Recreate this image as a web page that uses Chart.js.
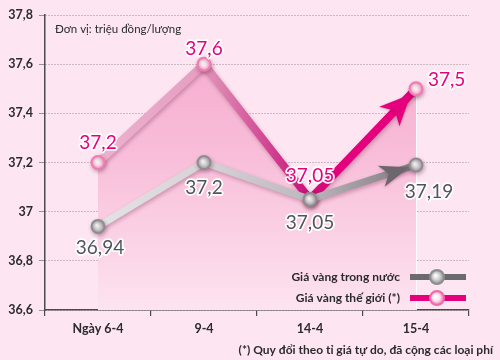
<!DOCTYPE html>
<html><head><meta charset="utf-8">
<script src="https://cdn.jsdelivr.net/npm/chart.js@4.4.1/dist/chart.umd.min.js"></script>
<style>html,body{margin:0;padding:0;background:#fde6f2;}#wrap{width:500px;height:360px;}</style>
</head><body><div id="wrap"><canvas id="c" width="500" height="360"></canvas></div>
<script>
const categories = ["Ngày 6-4", "9-4", "14-4", "15-4"];
const domestic = [36.94, 37.2, 37.05, 37.19];
const world = [37.2, 37.6, 37.05, 37.5];
const domesticLabels = ["36,94", "37,2", "37,05", "37,19"];
const worldLabels = ["37,2", "37,6", "37,05", "37,5"];
const seriesNames = ["Giá vàng trong nước", "Giá vàng thế giới (*)"];
const unitText = "Đơn vị: triệu đồng/lượng";
const footnote = "(*) Quy đổi theo tỉ giá tự do, đã cộng các loại phí";

const FONT = "Lato, 'Open Sans', sans-serif";

function hGrad(chart, stops) {
  const a = chart.chartArea;
  if (!a) return stops[stops.length-1][1];
  const g = chart.ctx.createLinearGradient(a.left, 0, a.right, 0);
  stops.forEach(s => g.addColorStop(s[0], s[1]));
  return g;
}
function pointGrad(ctx, outer, inner) {
  const ch = ctx.chart;
  const xs = ch.scales.x, ys = ch.scales.y;
  if (!xs || !ys || ctx.parsed === undefined) return inner;
  const x = xs.getPixelForValue(ctx.dataIndex);
  const y = ys.getPixelForValue(ctx.parsed.y);
  if (!isFinite(x) || !isFinite(y)) return inner;
  const g = ch.ctx.createRadialGradient(x - 1.5, y - 1.5, 0.5, x, y, 6);
  g.addColorStop(0, '#ffffff');
  g.addColorStop(0.45, inner);
  g.addColorStop(1, outer);
  return g;
}

const bgPlugin = {
  id: 'bg',
  beforeDraw(chart) {
    const c = chart.ctx;
    c.save(); c.fillStyle = '#fde6f2'; c.fillRect(0, 0, chart.width, chart.height); c.restore();
  },
  beforeDatasetsDraw(chart) {
    const c = chart.ctx, a = chart.chartArea;
    const mW = chart.getDatasetMeta(1);
    c.save(); c.strokeStyle = 'rgba(255,255,255,0.8)'; c.lineWidth = 1;
    mW.data.forEach((p, i) => {
      if (i === 0) return;
      c.beginPath(); c.moveTo(Math.round(p.x)+0.5, p.y); c.lineTo(Math.round(p.x)+0.5, a.bottom); c.stroke();
    });
    c.restore();
  },
  beforeDatasetDraw(chart, args) {
    const c = chart.ctx; c.save();
    c.shadowColor = 'rgba(80,0,40,0.28)'; c.shadowBlur = 4; c.shadowOffsetX = 1; c.shadowOffsetY = 2;
  },
  afterDatasetDraw(chart, args) {
    const c = chart.ctx; c.restore();
    const meta = args.meta, pts = meta.data, n = pts.length;
    const p1 = pts[n-2], p2 = pts[n-1];
    const ang = Math.atan2(p2.y - p1.y, p2.x - p1.x);
    const isWorld = args.index === 1;
    const r = 7.5, len = isWorld ? 25 : 23, hw = isWorld ? 14 : 11;
    const tx = p2.x - Math.cos(ang) * r, ty = p2.y - Math.sin(ang) * r;
    const bx = tx - Math.cos(ang) * len, by = ty - Math.sin(ang) * len;
    const back = 6;
    c.save();
    c.shadowColor = 'rgba(80,0,40,0.25)'; c.shadowBlur = 3; c.shadowOffsetY = 1;
    c.fillStyle = isWorld ? '#e5007e' : '#6c666d';
    c.beginPath();
    c.moveTo(tx, ty);
    c.lineTo(bx - Math.sin(ang) * hw - Math.cos(ang) * back, by + Math.cos(ang) * hw - Math.sin(ang) * back);
    c.lineTo(bx + Math.cos(ang) * 2, by + Math.sin(ang) * 2);
    c.lineTo(bx + Math.sin(ang) * hw - Math.cos(ang) * back, by - Math.cos(ang) * hw - Math.sin(ang) * back);
    c.closePath(); c.fill();
    c.restore();
  },
  afterDraw(chart) {
    const c = chart.ctx, a = chart.chartArea;
    c.save();
    function lbl(text, x, y, color, align) {
      c.font = "19px " + FONT;
      c.textAlign = align || 'center'; c.textBaseline = 'middle';
      c.lineJoin = 'round';
      c.strokeStyle = 'rgba(255,255,255,0.95)'; c.lineWidth = 3.5;
      c.strokeText(text, x, y);
      c.fillStyle = color; c.fillText(text, x, y);
    }
    const mD = chart.getDatasetMeta(0).data, mW = chart.getDatasetMeta(1).data;
    const wOff = [[0,-20,'center'],[0,-15,'center'],[0,-24,'center'],[12,-9,'left']];
    const dOff = [[2,21,'center'],[0,25,'center'],[0,23,'center'],[13,27,'center']];
    mW.forEach((p, i) => lbl(worldLabels[i], p.x + wOff[i][0], p.y + wOff[i][1], '#e6007e', wOff[i][2]));
    mD.forEach((p, i) => lbl(domesticLabels[i], p.x + dOff[i][0], p.y + dOff[i][1], '#4f5559', dOff[i][2]));

    c.font = "11.5px " + FONT; c.fillStyle = '#2b2b2b'; c.textAlign = 'left'; c.textBaseline = 'middle';
    c.fillText(unitText, a.left + 10, 29);

    const lx1 = 410, lx2 = 466, cx = 437;
    const rows = [[277, '#6b6b6d', '#8d8d8d', '#d0d0d0'], [298, '#e5007e', '#f06aa8', '#fde3ef']];
    rows.forEach((r, i) => {
      const y = r[0];
      c.font = "bold 12px " + FONT; c.fillStyle = '#2b2b2b'; c.textAlign = 'right'; c.textBaseline = 'middle';
      c.fillText(seriesNames[i], 400, y);
      c.fillStyle = r[1]; c.fillRect(lx1, y - 3, lx2 - lx1, 6);
      const g = c.createRadialGradient(cx - 1.5, y - 1.5, 0.5, cx, y, 7);
      g.addColorStop(0, '#fff'); g.addColorStop(0.5, r[3]); g.addColorStop(1, r[2]);
      c.beginPath(); c.arc(cx, y, 7, 0, Math.PI * 2);
      c.fillStyle = g; c.fill(); c.lineWidth = 2; c.strokeStyle = r[2]; c.stroke();
    });

    c.font = "bold 12px " + FONT; c.fillStyle = '#2b2b2b'; c.textAlign = 'right'; c.textBaseline = 'middle';
    c.fillText(footnote, 493, 350);
    c.restore();
  }
};

new Chart(document.getElementById('c'), {
  type: 'line',
  data: {
    labels: categories,
    datasets: [
      {
        label: seriesNames[0], data: domestic, fill: false, tension: 0,
        borderWidth: 7, borderCapStyle: 'round', borderJoinStyle: 'round',
        borderColor: ctx => hGrad(ctx.chart, [[0, '#ecebee'], [0.38, '#d6d2d6'], [0.62, '#bdb8bd'], [1, '#5f5961']]),
        pointRadius: 6.5, pointHoverRadius: 6.5, pointBorderWidth: 2,
        pointBorderColor: '#8e8e90',
        pointBackgroundColor: ctx => pointGrad(ctx, '#a9a9ab', '#d9d9db')
      },
      {
        label: seriesNames[1], data: world, fill: 'start', tension: 0,
        borderWidth: 8, borderCapStyle: 'round', borderJoinStyle: 'round',
        borderColor: ctx => hGrad(ctx.chart, [[0, '#f0bcd4'], [0.35, '#e6a0c2'], [0.42, '#dc7fae'], [0.62, '#c8127a'], [0.7, '#e5007e'], [1, '#e5007e']]),
        backgroundColor: ctx => {
          const a = ctx.chart.chartArea; if (!a) return '#f8c0da';
          const g = ctx.chart.ctx.createLinearGradient(0, a.top, 0, a.bottom);
          g.addColorStop(0, '#f5a8cb'); g.addColorStop(0.45, '#f8bcd8'); g.addColorStop(1, '#fde3f0');
          return g;
        },
        pointRadius: 6.5, pointHoverRadius: 6.5, pointBorderWidth: 2,
        pointBorderColor: '#f27bb3',
        pointBackgroundColor: ctx => pointGrad(ctx, '#f6a3c8', '#fde4ef')
      }
    ]
  },
  options: {
    responsive: false, animation: false, devicePixelRatio: 1,
    layout: { padding: { top: 15, right: 31, bottom: 24, left: 0 } },
    plugins: { legend: { display: false }, tooltip: { enabled: false } },
    events: [],
    scales: {
      x: {
        offset: true,
        grid: { offset: true, drawOnChartArea: false, drawTicks: true, tickLength: 6, color: '#4a4a4a', lineWidth: 1.2 },
        border: { display: true, color: '#4a4a4a', width: 1.5 },
        ticks: { color: '#2b2b2b', font: { family: FONT, size: 12.5, weight: 'bold' }, padding: 5, maxRotation: 0 },
        afterFit: s => { s.height = 26; }
      },
      y: {
        min: 36.6, max: 37.8,
        grid: { color: '#9a8f95', lineWidth: 1, drawTicks: true, tickLength: 6 },
        border: { display: true, color: '#4a4a4a', width: 1.5, dash: [1, 2] },
        ticks: {
          stepSize: 0.2, padding: 6, color: '#2b2b2b',
          font: { family: FONT, size: 12.5, weight: 'bold' },
          callback: v => String(Math.round(v * 10) / 10).replace('.', ',')
        },
        afterFit: s => { s.width = 45; }
      }
    }
  },
  plugins: [bgPlugin]
});
</script>
</body></html>
